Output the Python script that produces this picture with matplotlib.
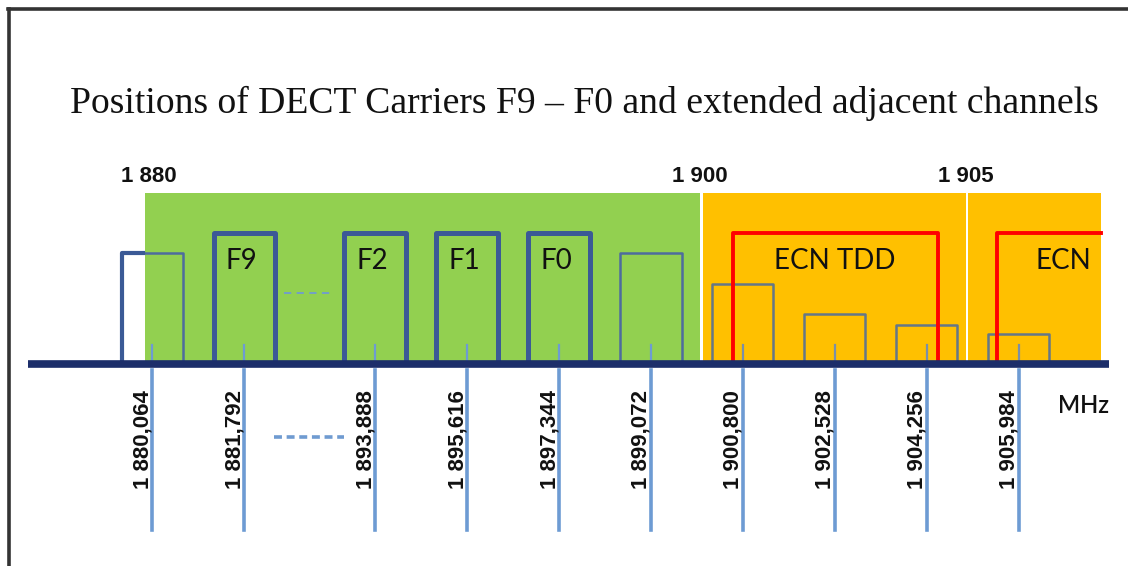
import numpy as np
import matplotlib
matplotlib.use("Agg")
import matplotlib.pyplot as plt
from matplotlib.lines import Line2D

# ---------------------------------------------------------
# DATA
# ---------------------------------------------------------
TITLE = "Positions of DECT Carriers F9 \u2013 F0 and extended adjacent channels"

carrier_freqs = [1880.064, 1881.792, 1893.888, 1895.616, 1897.344,
                 1899.072, 1900.800, 1902.528, 1904.256, 1905.984]
carrier_names = ["", "F9", "F2", "F1", "F0", "", "", "", "", ""]
carrier_levels = [0.85, 1.0, 1.0, 1.0, 1.0, 0.85, 0.61, 0.38, 0.30, 0.23]

band_edges = [1880, 1900, 1905]
band_end = 1907.54
ecn_names = ["ECN TDD", "ECN"]
ecn_ranges = [(1900.61, 1904.46), (1905.58, 1907.54)]
ecn_level = 1.0

# ---------------------------------------------------------
# SCHEMATIC AXIS (F8..F3 are squeezed out)
# ---------------------------------------------------------
CUT = 9.64          # MHz removed between F9 and F2
BREAK = 1885.0
BW = 1.152          # drawn carrier width
PX_PER_MHZ = 53.2
PX_PER_LEVEL = 131.0
W, H = 1128, 566
NUMFONT = "Liberation Sans"


def sq(f):
    f = np.asarray(f, dtype=float)
    return np.where(f > BREAK, f - CUT, f)


def fmt(f):
    s = f"{f:,.3f}"
    return s.replace(",", " ").replace(".", ",")


fig = plt.figure(figsize=(W / 100, H / 100), dpi=100)
ax = fig.add_axes([0, 0, 1, 1])
ax.set_axis_off()

x0 = carrier_freqs[0] - 152.5 / PX_PER_MHZ
ax.set_xlim(x0, x0 + W / PX_PER_MHZ)
ax.set_ylim(-(H - 364) / PX_PER_LEVEL, 364 / PX_PER_LEVEL)

GREEN = "#92d050"
ORANGE = "#ffc000"
THICK = "#3b5a96"
THIN_G = "#4d6c9e"
THIN_O = "#647789"
TICK = "#6d9bd3"
BAND_TOP = 1.305

# background bands
e0, e1, e2 = sq(band_edges)
ax.fill_between([e0 - 0.07, e1], 0, BAND_TOP, color=GREEN, lw=0, zorder=1)
ax.fill_between([e1 + 0.05, e2], 0, BAND_TOP, color=ORANGE, lw=0, zorder=1)
ax.fill_between([e2 + 0.04, sq(band_end)], 0, BAND_TOP, color=ORANGE, lw=0, zorder=1)

for e in band_edges:
    ax.text(sq(e), 1.435, f"{e:,}".replace(",", " "), ha="center", va="center",
            fontsize=16, fontweight="bold", family=NUMFONT, color="#111111")

# carriers
for f, name, lev in zip(carrier_freqs, carrier_names, carrier_levels):
    c = float(sq(f))
    l, r = c - BW / 2, c + BW / 2
    if name:
        ax.plot([l, l, r, r], [0, lev, lev, 0], color=THICK, lw=3.6,
                solid_joinstyle="round", zorder=4)
        ax.text(c - 0.05, 0.79, name, ha="center", va="center", fontsize=20,
                family="Lato", color="#111111", zorder=5)
    else:
        col = THIN_O if f > band_edges[1] else THIN_G
        ax.plot([l, l, r, r], [0, lev, lev, 0], color=col, lw=1.8, zorder=3)
    # inner and outer tick
    ax.plot([c, c], [0, 0.145], color=TICK if f < band_edges[1] else "#7b8fa8",
            lw=1.6, zorder=3)
    ax.plot([c, c], [-0.046, -1.267], color=TICK, lw=2.6, zorder=3)
    ax.text(c + 0.02, -0.198, fmt(f), rotation=90, ha="right", va="top",
            fontsize=16, fontweight="bold", family=NUMFONT, color="#111111", zorder=5)

# left edge of the first carrier sits outside the band: draw heavier
c0 = float(sq(carrier_freqs[0]))
ax.plot([c0 - BW / 2, c0 - BW / 2, e0 - 0.12], [0, carrier_levels[0], carrier_levels[0]],
        color=THICK, lw=3.0, zorder=3)

# ECN masks
for (a, b), name in zip(ecn_ranges, ecn_names):
    a, b = float(sq(a)), float(sq(b))
    if name == "ECN":
        ax.plot([a, a, b], [0, ecn_level, ecn_level], color="#ff0000", lw=2.8, zorder=4)
        ax.text((a + b) / 2 + 0.27, 0.79, name, ha="center", va="center",
                fontsize=20, family="Lato", color="#111111", zorder=5)
    else:
        ax.plot([a, a, b, b], [0, ecn_level, ecn_level, 0], color="#ff0000", lw=2.8, zorder=4)
        ax.text((a + b) / 2, 0.79, name, ha="center", va="center",
                fontsize=20, family="Lato", color="#111111", zorder=5)

# dashes marking the omitted carriers
gap_l = float(sq(carrier_freqs[1])) + BW / 2
gap_r = float(sq(carrier_freqs[2])) - BW / 2
ax.plot([gap_l + 0.17, gap_r - 0.19], [0.54, 0.54], color="#6f9bd1", lw=1.3,
        dashes=(4, 3), zorder=3)
ax.plot([gap_l - 0.02, gap_r - 0.0], [-0.557, -0.557], color="#6f9bd1", lw=2.6,
        dashes=(2.2, 1.3), zorder=3)

# baseline
ax.plot([x0 + 28 / PX_PER_MHZ, sq(band_end) + 0.15], [0, 0], color="#1c2e6a",
        lw=5.5, solid_capstyle="butt", zorder=6)

ax.text(x0 + 1058 / PX_PER_MHZ, -0.313, "MHz", ha="left", va="center",
        fontsize=17, fontweight="semibold", family="Lato", color="#111111")

# title, scaled to span its width
t = fig.text(584 / W, 1 - 103 / H, TITLE, ha="center", va="center",
             fontsize=24, family="Liberation Serif", color="#111111")
fig.canvas.draw()
bb = t.get_window_extent()
t.set_fontsize(24 * 1028 / bb.width)

# frame
fig.add_artist(Line2D([9 / W, 9 / W], [0, 1 - 9 / H], transform=fig.transFigure,
                      color="#333333", lw=2.6))
fig.add_artist(Line2D([8 / W, 1], [1 - 9 / H, 1 - 9 / H], transform=fig.transFigure,
                      color="#333333", lw=2.6))

plt.savefig("out.png", dpi=100)
